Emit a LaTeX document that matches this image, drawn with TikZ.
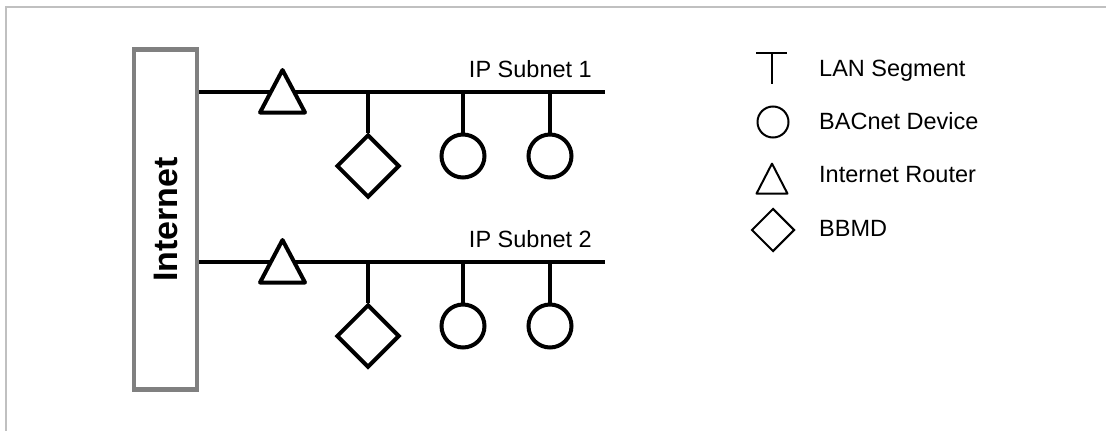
\documentclass[tikz,border=0pt]{standalone}
\usepackage{fontspec}
\setmainfont{Liberation Sans}
\usetikzlibrary{shapes.geometric}
\definecolor{framegray}{RGB}{192,192,192}
\definecolor{boxgray}{RGB}{128,128,128}
\tikzset{
  lan/.style={line width=4pt},
  netbox/.style={draw=boxgray,line width=4.5pt,rectangle,inner sep=0pt,minimum width=62.7pt,minimum height=340pt,font=\fontsize{34}{40}\selectfont\bfseries},
  router/.style={draw,line width=4pt,fill=white,isosceles triangle,isosceles triangle stretches,shape border rotate=90,inner sep=0pt,outer sep=0pt,minimum width=45pt,minimum height=42.5pt,line join=round,anchor=apex},
  bbmd/.style={draw,line width=4pt,fill=white,diamond,inner sep=0pt,minimum width=63pt,minimum height=63pt},
  device/.style={draw,line width=4pt,fill=white,circle,inner sep=0pt,minimum size=43pt},
  sublabel/.style={anchor=base east,inner sep=0pt,font=\fontsize{23.5}{28}\selectfont},
  legsym/.style={draw,line width=2pt,inner sep=0pt},
  legtext/.style={anchor=base west,inner sep=0pt,font=\fontsize{23.5}{28}\selectfont},
}
\begin{document}
\begin{tikzpicture}[x=1pt,y=-1pt]
\useasboundingbox (0,0) rectangle (1106,431);
\draw[framegray,line width=2pt] (6,431) -- (6,7) -- (1106,7);

\node[netbox] (inet) at (165.5,219.6) {\rotatebox{90}{Internet}};

\foreach \s/\y in {1/92,2/262}{
  \coordinate (end\s) at (605,\y);
  \draw[lan] (inet.east |- end\s) -- (end\s);
  \node[sublabel] (lbl\s) at (592,\y-15) {IP Subnet \s};
  \node[router] (rtr\s) at (282.5,\y-22) {};
  \node[bbmd] (bbmd\s) at (368,\y+74) {};
  \node[device] (dev\s a) at (463,\y+64) {};
  \node[device] (dev\s b) at (550,\y+64) {};
  \draw[lan] (bbmd\s.north |- end\s) -- (bbmd\s.north);
  \draw[lan] (dev\s a.north |- end\s) -- (dev\s a.north);
  \draw[lan] (dev\s b.north |- end\s) -- (dev\s b.north);
}

\draw[line width=2pt] (756,53) -- (787,53) (771.5,53) -- (771.5,84);
\node[legsym,circle,minimum size=31pt] (keydev) at (773,122) {};
\node[legsym,isosceles triangle,isosceles triangle stretches,shape border rotate=90,minimum width=31pt,minimum height=30pt,anchor=apex,line join=round] (keyrtr) at (772,161) {};
\node[legsym,diamond,minimum width=43pt,minimum height=43pt] (keybbmd) at (773,230) {};
\node[legtext] (txtlan) at (819,76) {LAN Segment};
\node[legtext] (txtdev) at (819,129) {BACnet Device};
\node[legtext] (txtrtr) at (819,182) {Internet Router};
\node[legtext] (txtbbmd) at (819,236) {BBMD};
\end{tikzpicture}
\end{document}
